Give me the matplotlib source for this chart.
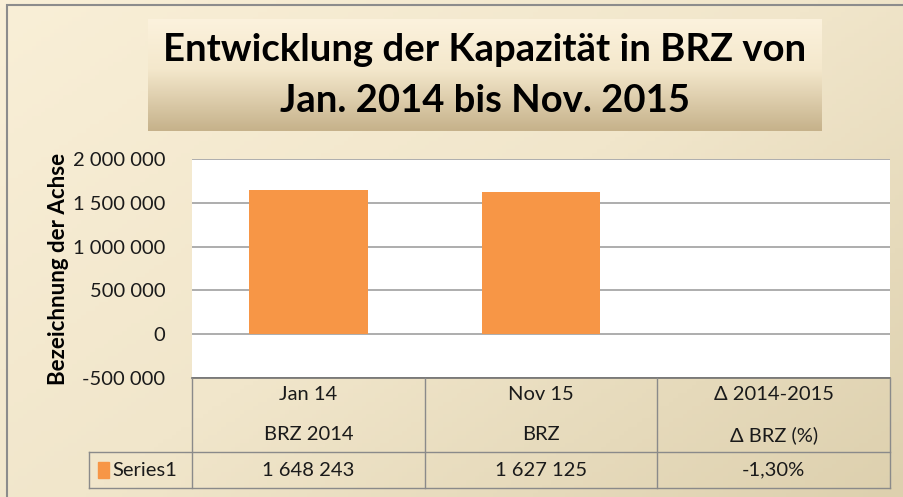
import numpy as np
import matplotlib
matplotlib.use("Agg")
import matplotlib.pyplot as plt
from matplotlib.colors import LinearSegmentedColormap
from matplotlib.patches import Rectangle

plt.rcParams['font.family'] = ['Lato', 'DejaVu Sans']

# data
categories = ["Jan 14", "Nov 15", "\u0394 2014-2015"]
sub_labels = ["BRZ 2014", "BRZ", "\u0394 BRZ (%)"]
values = [1648243, 1627125, None]
value_labels = ["1 648 243", "1 627 125", "-1,30%"]
series_name = "Series1"
yticks = [-500000, 0, 500000, 1000000, 1500000, 2000000]
ytick_labels = ["-500 000", "0", "500 000", "1 000 000", "1 500 000", "2 000 000"]

W, H = 904, 497
fig = plt.figure(figsize=(W / 100, H / 100), dpi=100)

def px(x0, y0, x1, y1):
    # pixel box -> figure fraction rect
    return [x0 / W, 1 - y1 / H, (x1 - x0) / W, (y1 - y0) / H]

# background gradient
bg = fig.add_axes([0, 0, 1, 1])
bg.set_axis_off()
gx, gy = np.meshgrid(np.linspace(0, 1, 200), np.linspace(0, 1, 120))
t = 0.55 * gx + 0.45 * gy
bg_cmap = LinearSegmentedColormap.from_list("bg", ["#f9efd7", "#f1e6cb", "#ddd0ae"])
bg.imshow(t, cmap=bg_cmap, aspect='auto', extent=[0, 1, 0, 1], origin='upper')
bg.set_xlim(0, 1)
bg.set_ylim(0, 1)
bg.add_patch(Rectangle((7 / W, -0.1), 1.2, 1 - 5 / H + 0.1, fill=False,
                       edgecolor="#8c8c8c", lw=1.5))

# title box
tb = fig.add_axes(px(148, 19, 822, 131))
tb.set_axis_off()
ty = np.linspace(0, 1, 100)[:, None] * np.ones((1, 10))
tb_cmap = LinearSegmentedColormap.from_list("tb", [(0, "#fcf2dd"), (0.45, "#f4e8cc"),
                                                    (1, "#c6b28b")])
tb.imshow(ty, cmap=tb_cmap, aspect='auto', extent=[0, 1, 0, 1], origin='upper')
tb.set_xlim(0, 1)
tb.set_ylim(0, 1)
tb.text(0.5, 0.72, "Entwicklung der Kapazit\u00e4t in BRZ von", ha='center', va='center',
        fontsize=27.5, fontweight='bold', color='black')
tb.text(0.5, 0.27, "Jan. 2014 bis Nov. 2015", ha='center', va='center',
        fontsize=27.5, fontweight='bold', color='black')

# main plot
ax = fig.add_axes(px(192, 159, 890, 378))
ax.set_facecolor("white")
bar_x = [i for i, v in enumerate(values) if v is not None]
bar_v = [v for v in values if v is not None]
ax.bar(bar_x, bar_v, width=0.51, color="#f79646", zorder=3)
ax.set_xlim(-0.5, len(categories) - 0.5)
ax.set_ylim(-500000, 2000000)
ax.set_yticks(yticks)
ax.set_yticklabels(ytick_labels, fontsize=14.5, color="#1a1a1a")
ax.yaxis.grid(True, color="#a0a0a0", lw=1.2, zorder=1)
ax.tick_params(axis='y', length=0, pad=19)
ax.set_xticks([])
for s in ax.spines.values():
    s.set_visible(False)
ax.set_ylabel("Bezeichnung der Achse", fontsize=16, fontweight='bold', labelpad=3)

# data table
tab = fig.add_axes(px(192, 378, 890, 488))
tab.set_axis_off()
tab.set_xlim(-0.5, len(categories) - 0.5)
tab.set_ylim(110, 0)
line_c = "#8a8a8a"
tab.plot([-0.5, len(categories) - 0.5], [0, 0], color="#707070", lw=1.2, clip_on=False)
label_left = -0.5 - (192 - 89) / ((890 - 192) / len(categories))
tab.plot([label_left, len(categories) - 0.5], [74, 74], color=line_c, lw=1, clip_on=False)
tab.plot([label_left, len(categories) - 0.5], [110, 110], color=line_c, lw=1, clip_on=False)
tab.plot([label_left, label_left], [74, 110], color=line_c, lw=1, clip_on=False)
for b in np.arange(len(categories) + 1) - 0.5:
    tab.plot([b, b], [0, 110], color=line_c, lw=1, clip_on=False)
for i in range(len(categories)):
    tab.text(i, 17, categories[i], ha='center', va='center', fontsize=14.5, color="#1a1a1a")
    tab.text(i, 57, sub_labels[i], ha='center', va='center', fontsize=14.5, color="#1a1a1a")
    tab.text(i, 92, value_labels[i], ha='center', va='center', fontsize=14.5, color="#1a1a1a")
mk = label_left + 0.04
tab.add_patch(Rectangle((mk, 84), 0.045, 16, color="#f79646", clip_on=False))
tab.text(mk + 0.06, 92, series_name, ha='left', va='center', fontsize=14.5, color="#1a1a1a")

fig.savefig("out.png", dpi=100)
